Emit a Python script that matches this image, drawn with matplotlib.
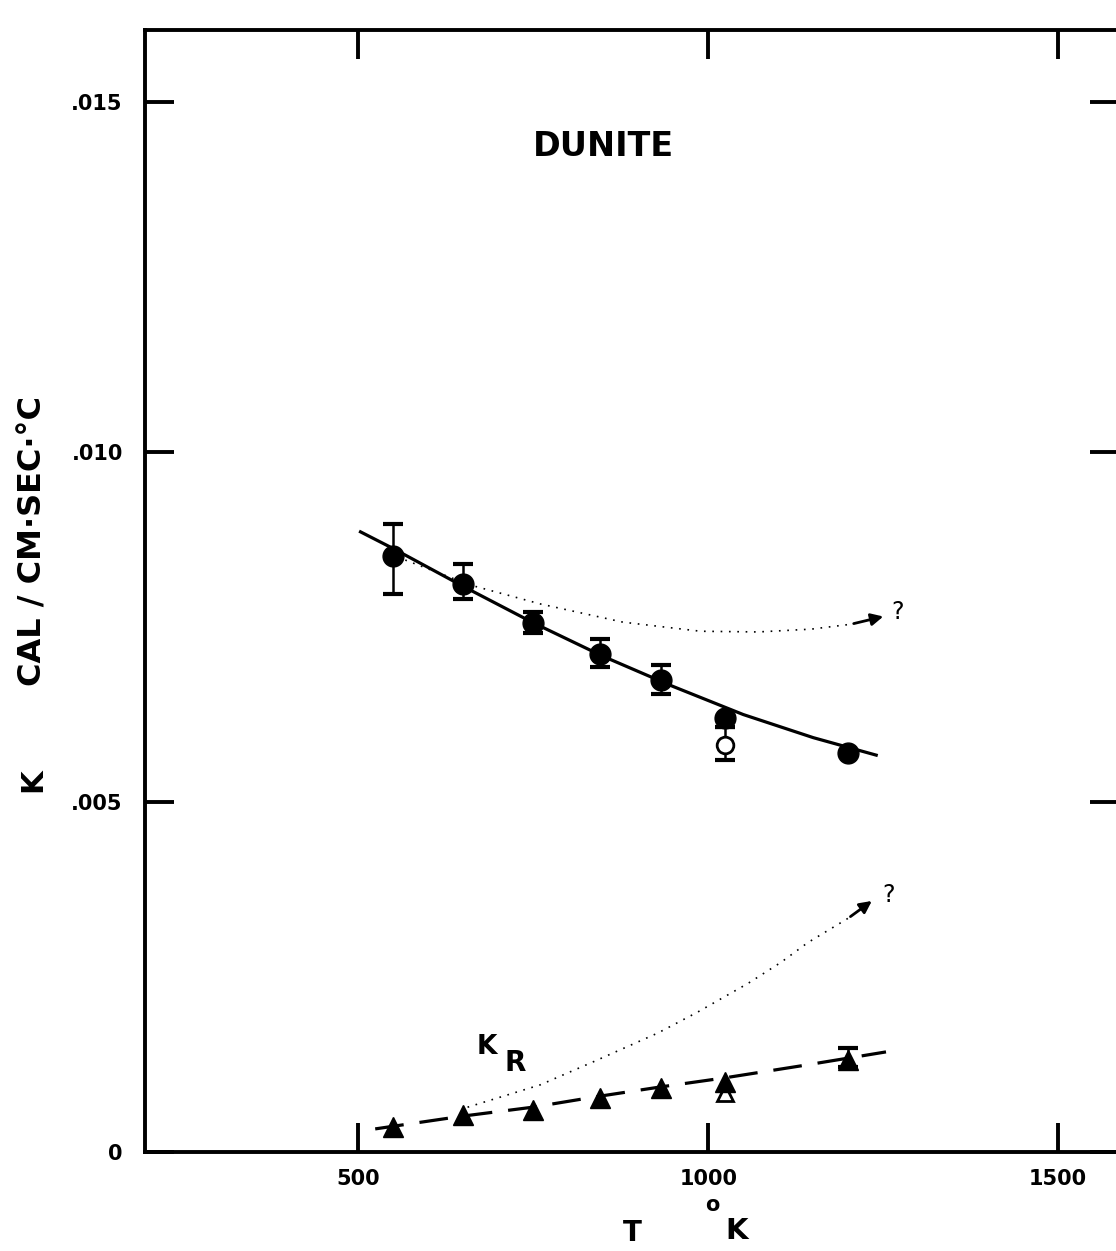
import matplotlib.pyplot as plt
from matplotlib.ticker import FixedLocator, FixedFormatter

# Measured points (temperature in K)
temps = [550, 650, 750, 845, 932, 1024, 1200]

# Total conductivity K (filled circles) with error bar limits
k_total = [0.00851, 0.00811, 0.00756, 0.00711, 0.00674, 0.00620, 0.00570]
k_low = [0.00797, 0.00790, 0.00741, 0.00693, 0.00654, 0.00607, 0.00570]
k_high = [0.00897, 0.00840, 0.00771, 0.00733, 0.00696, 0.00620, 0.00570]

# Open circle at 1024 K
open_t = [1024]
open_k = [0.00581]
open_low = [0.00560]
open_high = [0.00607]

# Radiative part K_R (filled triangles)
kr = [0.000357, 0.00053, 0.00060, 0.00077, 0.00091, 0.00100, 0.00131]
kr_low = [0.000357, 0.00053, 0.00060, 0.00077, 0.00091, 0.00100, 0.00122]
kr_high = [0.000357, 0.00053, 0.00060, 0.00077, 0.00091, 0.00100, 0.00149]
open_kr = [0.00084]

# Solid curve through circles
curve_t = [503, 550, 650, 750, 850, 950, 1050, 1150, 1240]
curve_k = [0.00886, 0.00862, 0.00808, 0.00756, 0.00708, 0.00665, 0.00625, 0.00592, 0.00567]

# Dashed curve through triangles
dash_t = [524, 647, 749, 840, 932, 1024, 1132, 1254]
dash_k = [0.00033, 0.00051, 0.00064, 0.00079, 0.00093, 0.00106, 0.00123, 0.00143]

# Dotted upper curve (ends in arrow)
dot1_t = [567, 660, 760, 878, 989, 1071, 1147, 1204, 1254]
dot1_k = [0.008457, 0.00810, 0.00783, 0.00757, 0.00744, 0.00743, 0.00747, 0.00754, 0.00766]

# Dotted lower curve (ends in arrow)
dot2_t = [656, 760, 836, 928, 985, 1057, 1104, 1142, 1200, 1237]
dot2_k = [0.00064, 0.00096, 0.00129, 0.00170, 0.00200, 0.00241, 0.00271, 0.00299, 0.00334, 0.00361]

xticks = [500, 1000, 1500]
yticks = [0, 0.005, 0.010, 0.015]
ylabels = ['0', '.005', '.010', '.015']

fig = plt.figure(figsize=(11.16, 12.51), dpi=100)
W, H = 1116, 1251
ax = fig.add_axes([145 / W, 1 - 1152 / H, (1119 - 145) / W, (1152 - 30) / H])

ax.plot(curve_t, curve_k, color='black', lw=2.3)
ax.plot(dash_t, dash_k, color='black', lw=2.3, dashes=(9, 5))
ax.plot(dot1_t[:-1], dot1_k[:-1], color='black', lw=1.2, ls=(0, (1, 4)))
ax.plot(dot2_t[:-1], dot2_k[:-1], color='black', lw=1.2, ls=(0, (1, 4)))
ax.annotate('', xy=(dot1_t[-1], dot1_k[-1]), xytext=(dot1_t[-2], dot1_k[-2]),
            arrowprops=dict(arrowstyle='-|>', color='black', lw=2, mutation_scale=18))
ax.annotate('', xy=(dot2_t[-1], dot2_k[-1]), xytext=(dot2_t[-2], dot2_k[-2]),
            arrowprops=dict(arrowstyle='-|>', color='black', lw=2, mutation_scale=18))

# error bars
for t, lo, hi in zip(temps + open_t, k_low + open_low, k_high + open_high):
    if hi > lo:
        ax.errorbar([t], [(lo + hi) / 2], yerr=[[(hi - lo) / 2], [(hi - lo) / 2]],
                    fmt='none', ecolor='black', elinewidth=1.8, capsize=7, capthick=3)
for t, lo, hi in zip(temps, kr_low, kr_high):
    if hi > lo:
        ax.errorbar([t], [(lo + hi) / 2], yerr=[[(hi - lo) / 2], [(hi - lo) / 2]],
                    fmt='none', ecolor='black', elinewidth=1.8, capsize=7, capthick=3)

ax.plot(temps, k_total, 'o', color='black', ms=15, zorder=5)
ax.plot(open_t, open_k, 'o', mfc='white', mec='black', mew=2, ms=12, zorder=5)
ax.plot(open_t, open_kr, '^', mfc='white', mec='black', mew=2, ms=12, zorder=5)
ax.plot(temps, kr, '^', color='black', ms=15, zorder=6)

ax.set_xlim(195, 1587)
ax.set_ylim(0, 0.01603)
ax.xaxis.set_major_locator(FixedLocator(xticks))
ax.xaxis.set_major_formatter(FixedFormatter([str(v) for v in xticks]))
ax.yaxis.set_major_locator(FixedLocator(yticks))
ax.yaxis.set_major_formatter(FixedFormatter(ylabels))
ax.tick_params(direction='in', length=21, width=2.8, top=True, right=True,
               labelsize=15)
ax.tick_params(axis='x', pad=12)
ax.tick_params(axis='y', pad=16)
for lab in ax.get_xticklabels() + ax.get_yticklabels():
    lab.set_fontweight('bold')
for s in ax.spines.values():
    s.set_linewidth(2.8)

ax.text(850, 0.01437, 'DUNITE', fontsize=24, fontweight='bold', ha='center', va='center')
ax.text(683, 0.00150, 'K', fontsize=19, fontweight='bold', ha='center', va='center')
ax.text(724, 0.00127, 'R', fontsize=20, fontweight='bold', ha='center', va='center')
ax.text(1271, 0.00771, '?', fontsize=17, ha='center', va='center')
ax.text(1258, 0.00367, '?', fontsize=17, ha='center', va='center')

fig.text(33 / W, 1 - 780 / H, 'K', fontsize=22, fontweight='bold', rotation=90,
         ha='center', va='center')
fig.text(33 / W, 1 - 541 / H, 'CAL / CM·SEC·°C', fontsize=23, fontweight='bold',
         rotation=90, ha='center', va='center')
fig.text(632 / W, 1 - 1233 / H, 'T', fontsize=20, fontweight='bold', ha='center', va='center')
fig.text(712 / W, 1 - 1205 / H, 'o', fontsize=15, fontweight='bold', ha='center', va='center')
fig.text(737 / W, 1 - 1231 / H, 'K', fontsize=21, fontweight='bold', ha='center', va='center')

fig.savefig('out.png', dpi=100)
